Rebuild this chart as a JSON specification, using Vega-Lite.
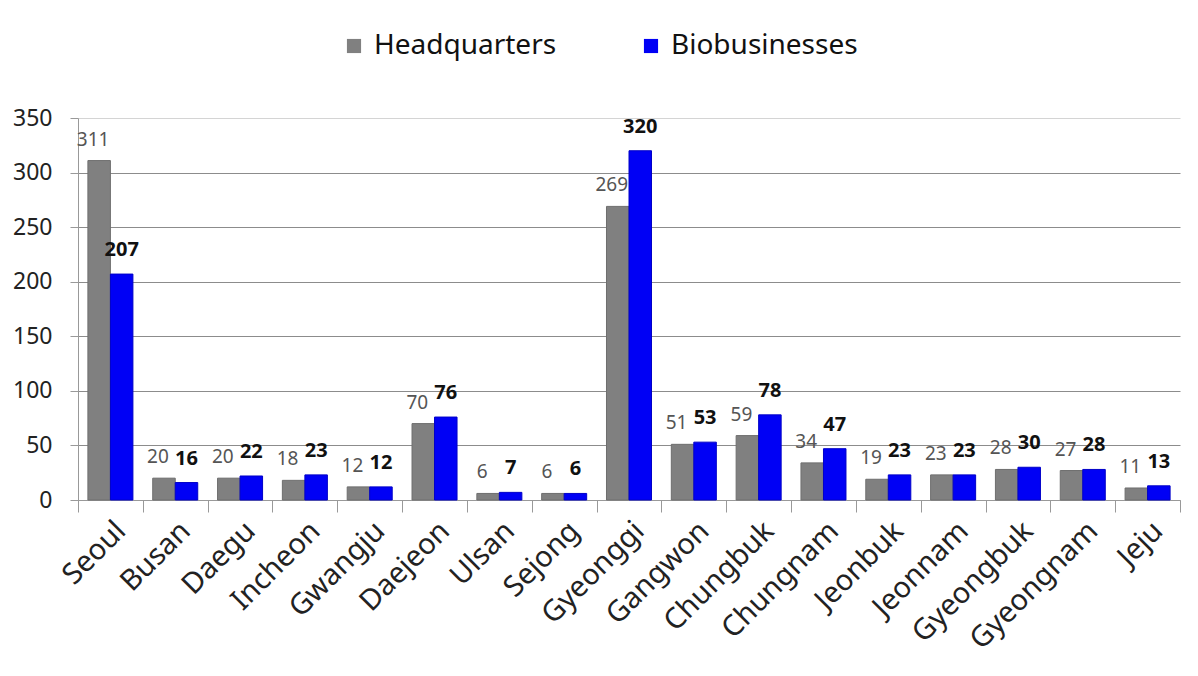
{
  "$schema": "https://vega.github.io/schema/vega-lite/v6.json",
  "autosize": "none",
  "width": 1102,
  "height": 382,
  "padding": {"left": 78, "top": 118, "right": 18, "bottom": 176},
  "background": "white",
  "config": {
    "font": "Noto Sans",
    "view": {"stroke": null},
    "axis": {"labelFont": "Noto Sans", "labelColor": "#222"}
  },
  "data": {
    "values": [
      {"region": "Seoul", "series": "Headquarters", "value": 311},
      {"region": "Seoul", "series": "Biobusinesses", "value": 207},
      {"region": "Busan", "series": "Headquarters", "value": 20},
      {"region": "Busan", "series": "Biobusinesses", "value": 16},
      {"region": "Daegu", "series": "Headquarters", "value": 20},
      {"region": "Daegu", "series": "Biobusinesses", "value": 22},
      {"region": "Incheon", "series": "Headquarters", "value": 18},
      {"region": "Incheon", "series": "Biobusinesses", "value": 23},
      {"region": "Gwangju", "series": "Headquarters", "value": 12},
      {"region": "Gwangju", "series": "Biobusinesses", "value": 12},
      {"region": "Daejeon", "series": "Headquarters", "value": 70},
      {"region": "Daejeon", "series": "Biobusinesses", "value": 76},
      {"region": "Ulsan", "series": "Headquarters", "value": 6},
      {"region": "Ulsan", "series": "Biobusinesses", "value": 7},
      {"region": "Sejong", "series": "Headquarters", "value": 6},
      {"region": "Sejong", "series": "Biobusinesses", "value": 6},
      {"region": "Gyeonggi", "series": "Headquarters", "value": 269},
      {"region": "Gyeonggi", "series": "Biobusinesses", "value": 320},
      {"region": "Gangwon", "series": "Headquarters", "value": 51},
      {"region": "Gangwon", "series": "Biobusinesses", "value": 53},
      {"region": "Chungbuk", "series": "Headquarters", "value": 59},
      {"region": "Chungbuk", "series": "Biobusinesses", "value": 78},
      {"region": "Chungnam", "series": "Headquarters", "value": 34},
      {"region": "Chungnam", "series": "Biobusinesses", "value": 47},
      {"region": "Jeonbuk", "series": "Headquarters", "value": 19},
      {"region": "Jeonbuk", "series": "Biobusinesses", "value": 23},
      {"region": "Jeonnam", "series": "Headquarters", "value": 23},
      {"region": "Jeonnam", "series": "Biobusinesses", "value": 23},
      {"region": "Gyeongbuk", "series": "Headquarters", "value": 28},
      {"region": "Gyeongbuk", "series": "Biobusinesses", "value": 30},
      {"region": "Gyeongnam", "series": "Headquarters", "value": 27},
      {"region": "Gyeongnam", "series": "Biobusinesses", "value": 28},
      {"region": "Jeju", "series": "Headquarters", "value": 11},
      {"region": "Jeju", "series": "Biobusinesses", "value": 13}
    ]
  },
  "encoding": {
    "x": {
      "field": "region",
      "type": "nominal",
      "sort": null,
      "title": null,
      "scale": {"paddingInner": 0, "paddingOuter": 0},
      "axis": {
        "labelAngle": -45,
        "labelFontSize": 29,
        "labelPadding": 4,
        "labelLimit": 0,
        "tickBand": "extent",
        "tickSize": 12,
        "tickColor": "#999",
        "domainColor": "#999",
        "labelColor": "#222"
      }
    },
    "xOffset": {
      "field": "series",
      "type": "nominal",
      "sort": ["Headquarters", "Biobusinesses"],
      "scale": {"paddingInner": 0, "paddingOuter": 0.44}
    },
    "y": {
      "field": "value",
      "type": "quantitative",
      "title": null,
      "scale": {"domain": [0, 350], "nice": false},
      "axis": {
        "values": [0, 50, 100, 150, 200, 250, 300, 350],
        "labelFontSize": 23,
        "labelPadding": 18,
        "tickSize": 8,
        "tickColor": "#999",
        "domainColor": "#999",
        "gridColor": {"condition": {"test": "datum.value == 350", "value": "#d4d4d4"}, "value": "#8c8c8c"},
        "gridWidth": 1
      }
    }
  },
  "layer": [
    {
      "mark": {"type": "bar", "strokeWidth": 1},
      "encoding": {
        "color": {
          "field": "series",
          "type": "nominal",
          "sort": ["Headquarters", "Biobusinesses"],
          "scale": {"domain": ["Headquarters", "Biobusinesses"], "range": ["#808080", "#0000f5"]},
          "legend": {
            "title": null,
            "orient": "none",
            "direction": "horizontal",
            "legendX": 262,
            "legendY": -86,
            "symbolType": "square",
            "symbolSize": 200,
            "symbolStrokeWidth": 0,
            "labelFontSize": 28,
            "labelLimit": 0,
            "labelColor": "#111",
            "labelOffset": 6,
            "columnPadding": 80
          }
        },
        "stroke": {
          "field": "series",
          "type": "nominal",
          "scale": {"domain": ["Headquarters", "Biobusinesses"], "range": ["#6e6e6e", "#0000c8"]},
          "legend": null
        }
      }
    },
    {
      "transform": [{"filter": "datum.series == 'Headquarters'"}],
      "mark": {"type": "text", "baseline": "bottom", "dy": -11, "dx": -6, "fontSize": 19, "color": "#555"},
      "encoding": {"text": {"field": "value", "type": "quantitative"}}
    },
    {
      "transform": [{"filter": "datum.series == 'Biobusinesses'"}],
      "mark": {"type": "text", "baseline": "bottom", "dy": -14, "fontSize": 20, "fontWeight": "bold", "color": "#111"},
      "encoding": {"text": {"field": "value", "type": "quantitative"}}
    }
  ]
}
